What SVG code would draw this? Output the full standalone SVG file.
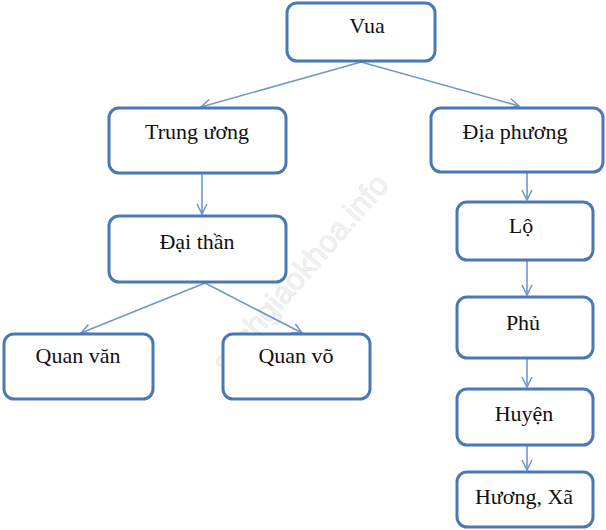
<svg xmlns="http://www.w3.org/2000/svg" width="606" height="530" viewBox="0 0 606 530">
<style>
.box{fill:#fff;stroke:#4a78b5;stroke-width:3}
.lbl{font-family:"Liberation Serif","Times New Roman",serif;font-size:22px;fill:#111;text-anchor:middle}
.con{fill:none;stroke:#7297c9;stroke-width:1.6;marker-end:url(#arr)}
.wm{font-family:"Liberation Sans",Arial,sans-serif;font-size:31px;fill:#f2f2f2;stroke:#e6e6e6;stroke-width:0.6}
</style>
<defs>
<marker id="arr" viewBox="0 0 12 12" refX="11" refY="6" markerWidth="12" markerHeight="12" markerUnits="userSpaceOnUse" orient="auto">
<path d="M1,1 L11,6 L1,11" fill="none" stroke="#7297c9" stroke-width="1.6"/>
</marker>
</defs>
<rect width="606" height="530" fill="#fff"/>
<text class="wm" transform="translate(226,374) rotate(-49)">sachgiaokhoa.info</text>
<g id="connectors">
<line class="con" x1="361" y1="62" x2="201" y2="107"/>
<line class="con" x1="361" y1="62" x2="519" y2="106"/>
<line class="con" x1="202" y1="174" x2="202" y2="214"/>
<line class="con" x1="205" y1="283" x2="81" y2="333"/>
<line class="con" x1="205" y1="283" x2="302" y2="333"/>
<line class="con" x1="527" y1="172" x2="527" y2="200"/>
<line class="con" x1="527" y1="260" x2="527" y2="295"/>
<line class="con" x1="527" y1="358" x2="527" y2="387"/>
<line class="con" x1="527" y1="445" x2="527" y2="470"/>
</g>
<g id="vua"><rect class="box" x="287" y="3" width="148" height="58" rx="10"/><text class="lbl" x="367" y="33">Vua</text></g>
<g id="trung-uong"><rect class="box" x="109" y="108" width="177" height="65" rx="10"/><text class="lbl" x="197" y="139">Trung ương</text></g>
<g id="dia-phuong"><rect class="box" x="431" y="108" width="172" height="64" rx="10"/><text class="lbl" x="515" y="139">Địa phương</text></g>
<g id="dai-than"><rect class="box" x="109" y="216" width="177" height="66" rx="10"/><text class="lbl" x="197" y="249">Đại thần</text></g>
<g id="quan-van"><rect class="box" x="4" y="334" width="149" height="65" rx="10"/><text class="lbl" x="78" y="363">Quan văn</text></g>
<g id="quan-vo"><rect class="box" x="223" y="334" width="147" height="65" rx="10"/><text class="lbl" x="296" y="363">Quan võ</text></g>
<g id="lo"><rect class="box" x="457" y="202" width="136" height="58" rx="10"/><text class="lbl" x="521" y="233">Lộ</text></g>
<g id="phu"><rect class="box" x="457" y="297" width="136" height="61" rx="10"/><text class="lbl" x="523" y="330">Phủ</text></g>
<g id="huyen"><rect class="box" x="457" y="389" width="136" height="56" rx="10"/><text class="lbl" x="524" y="421">Huyện</text></g>
<g id="huong-xa"><rect class="box" x="457" y="472" width="136" height="55" rx="10"/><text class="lbl" x="524" y="504">Hương, Xã</text></g>
</svg>
